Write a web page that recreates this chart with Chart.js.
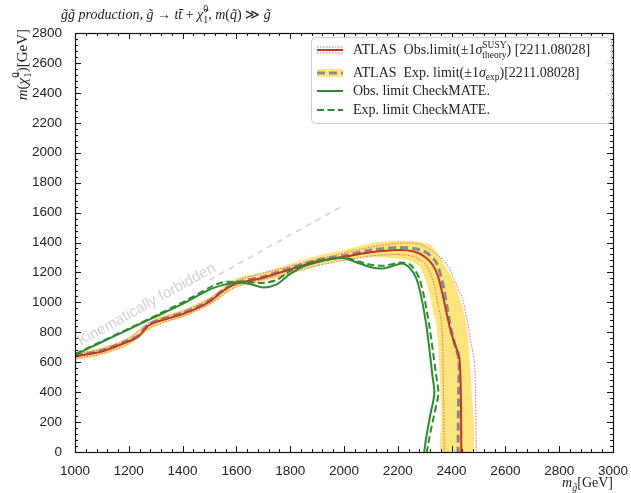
<!DOCTYPE html>
<html>
<head>
<meta charset="utf-8">
<script src="https://cdn.jsdelivr.net/npm/chart.js@4.4.0/dist/chart.umd.min.js"></script>
<style>
  html, body { margin: 0; padding: 0; background: #fff; }
  canvas { display: block; }
</style>
</head>
<body>
<canvas id="c" width="631" height="493"></canvas>
<script>
// Axis ticks
const xTicks = [1000, 1200, 1400, 1600, 1800, 2000, 2200, 2400, 2600, 2800, 3000];
const yTicks = [0, 200, 400, 600, 800, 1000, 1200, 1400, 1600, 1800, 2000, 2200, 2400, 2600, 2800];

// CheckMATE observed limit
const cmObsX = [1000, 1100, 1200, 1300, 1400, 1500, 1550, 1600, 1650, 1700, 1750, 1800, 1850, 1900, 1950, 2000, 2050, 2100, 2150, 2215, 2243, 2269, 2288, 2305, 2318, 2328, 2336, 2320, 2306, 2298];
const cmObsY = [650, 735, 820, 905, 990, 1085, 1115, 1132, 1122, 1100, 1120, 1190, 1240, 1268, 1288, 1295, 1265, 1235, 1228, 1260, 1233, 1160, 1030, 860, 680, 520, 393, 240, 100, 0];

// CheckMATE expected limit
const cmExpX = [1000, 1100, 1200, 1300, 1400, 1500, 1550, 1600, 1650, 1700, 1750, 1800, 1850, 1900, 1950, 2000, 2050, 2100, 2150, 2213, 2250, 2280, 2299, 2317, 2330, 2342, 2351, 2334, 2318, 2308];
const cmExpY = [655, 740, 825, 912, 1000, 1098, 1135, 1138, 1135, 1130, 1150, 1210, 1245, 1270, 1290, 1300, 1275, 1252, 1245, 1267, 1247, 1160, 1027, 847, 680, 520, 393, 240, 100, 0];

// ATLAS observed limit and its +-1 sigma theory lines
const atObsX = [1000, 1100, 1200, 1235, 1270, 1300, 1350, 1400, 1450, 1500, 1550, 1600, 1700, 1800, 1900, 2000, 2100, 2200, 2260, 2300, 2330, 2350, 2365, 2380, 2395, 2412, 2428, 2433, 2435, 2436];
const atObsY = [640, 672, 740, 770, 840, 868, 895, 922, 958, 1005, 1075, 1125, 1165, 1220, 1275, 1305, 1335, 1350, 1340, 1305, 1250, 1170, 1065, 940, 820, 720, 640, 500, 300, 0];
const atObsUpX = [1000, 1100, 1200, 1270, 1350, 1400, 1500, 1600, 1800, 2000, 2100, 2200, 2280, 2330, 2370, 2392, 2415, 2440, 2458, 2470, 2484, 2489, 2492];
const atObsUpY = [655, 688, 758, 858, 912, 940, 1022, 1145, 1240, 1330, 1370, 1395, 1390, 1340, 1280, 1227, 1130, 1027, 880, 750, 613, 400, 0];
const atObsDnX = [1000, 1100, 1200, 1270, 1350, 1400, 1500, 1600, 1800, 1900, 2000, 2100, 2200, 2260, 2300, 2325, 2340, 2352, 2362, 2367, 2370, 2373];
const atObsDnY = [625, 656, 722, 822, 878, 905, 988, 1105, 1195, 1245, 1280, 1310, 1320, 1305, 1260, 1180, 1080, 960, 880, 700, 400, 0];

// ATLAS expected limit and its +-1 sigma band
const atExpX = [1000, 1100, 1200, 1235, 1270, 1300, 1350, 1400, 1450, 1500, 1550, 1600, 1700, 1800, 1900, 2000, 2100, 2200, 2260, 2306, 2343, 2366, 2384, 2398, 2415, 2427, 2426, 2424];
const atExpY = [645, 678, 748, 778, 848, 875, 902, 930, 965, 1012, 1082, 1132, 1172, 1228, 1283, 1313, 1350, 1367, 1360, 1333, 1267, 1133, 960, 820, 700, 620, 400, 0];
const bandHiX = [1000, 1100, 1200, 1300, 1400, 1500, 1600, 1700, 1800, 1900, 2000, 2100, 2200, 2280, 2320, 2354, 2380, 2403, 2436, 2455, 2466, 2473, 2477];
const bandHiY = [665, 700, 768, 895, 950, 1035, 1160, 1200, 1258, 1312, 1350, 1395, 1413, 1405, 1385, 1313, 1230, 1160, 1000, 847, 660, 450, 0];
const bandLoX = [1000, 1100, 1200, 1300, 1400, 1500, 1600, 1700, 1800, 1900, 2000, 2083, 2160, 2243, 2280, 2300, 2317, 2330, 2343, 2352, 2358, 2362, 2364];
const bandLoY = [612, 648, 715, 842, 898, 980, 1100, 1140, 1190, 1245, 1280, 1300, 1298, 1280, 1240, 1165, 1067, 950, 860, 650, 450, 200, 0];

// Kinematic boundary and its label
const kinX = [1500, 2000];
const kinY = [1150, 1650];
const kinLabel = "Kinematically forbidden";
const kinLabelAt = [1022, 708];

const GREEN = '#2e8b30';
const RED = '#c0362c';
const PINK = '#e0607a';
const GREY = '#8a8a8a';
const YELLOW = '#fde47c';
const SERIF = "'Liberation Serif', 'DejaVu Serif', serif";
const SANS = "'Liberation Sans', Arial, sans-serif";

function pts(xs, ys) {
  return xs.map((x, i) => ({ x: x, y: ys[i] }));
}

// band polygon: upper edge then lower edge backwards
const bandPts = pts(bandHiX, bandHiY).concat(pts(bandLoX, bandLoY).reverse());

// draws text made of pieces (italic letters, sub/superscripts)
function richText(ctx, parts, x, y, draw) {
  for (const p of parts) {
    if (p.sup !== undefined || p.sub !== undefined) {
      ctx.font = p.font;
      let w = 0;
      if (p.sup !== undefined) {
        if (draw) ctx.fillText(p.sup, x, y + p.supDy);
        w = Math.max(w, ctx.measureText(p.sup).width);
      }
      if (p.sub !== undefined) {
        if (draw) ctx.fillText(p.sub, x, y + p.subDy);
        w = Math.max(w, ctx.measureText(p.sub).width);
      }
      x += w;
    } else {
      ctx.font = p.font;
      if (draw) ctx.fillText(p.t, x, y + (p.dy || 0));
      x += ctx.measureText(p.t).width;
    }
  }
  return x;
}

const frameTicks = {
  id: 'frameTicks',
  afterDatasetsDraw(chart) {
    const { ctx, chartArea: a, scales: { x, y } } = chart;
    ctx.save();
    ctx.strokeStyle = '#111';
    ctx.lineWidth = 1;
    ctx.beginPath();
    for (let i = 0; i < xTicks.length; i++) {
      const v = xTicks[i];
      const px = Math.round(x.getPixelForValue(v)) + 0.5;
      ctx.moveTo(px, a.bottom); ctx.lineTo(px, a.bottom - 6);
      ctx.moveTo(px, a.top); ctx.lineTo(px, a.top + 6);
      if (i < xTicks.length - 1) {
        const step = (xTicks[i + 1] - v) / 5;
        for (let k = 1; k < 5; k++) {
          const mx = Math.round(x.getPixelForValue(v + k * step)) + 0.5;
          ctx.moveTo(mx, a.bottom); ctx.lineTo(mx, a.bottom - 3);
          ctx.moveTo(mx, a.top); ctx.lineTo(mx, a.top + 3);
        }
      }
    }
    for (let i = 0; i < yTicks.length; i++) {
      const v = yTicks[i];
      const py = Math.round(y.getPixelForValue(v)) + 0.5;
      ctx.moveTo(a.left, py); ctx.lineTo(a.left + 6, py);
      ctx.moveTo(a.right, py); ctx.lineTo(a.right - 6, py);
      if (i < yTicks.length - 1) {
        const step = (yTicks[i + 1] - v) / 5;
        for (let k = 1; k < 5; k++) {
          const my = Math.round(y.getPixelForValue(v + k * step)) + 0.5;
          ctx.moveTo(a.left, my); ctx.lineTo(a.left + 3, my);
          ctx.moveTo(a.right, my); ctx.lineTo(a.right - 3, my);
        }
      }
    }
    ctx.stroke();
    ctx.lineWidth = 1.2;
    ctx.strokeRect(Math.round(a.left) + 0.5, Math.round(a.top) + 0.5, Math.round(a.width), Math.round(a.height));

    // kinematic label, rotated along the boundary line
    const ang = Math.atan2(y.getPixelForValue(kinY[1]) - y.getPixelForValue(kinY[0]),
                           x.getPixelForValue(kinX[1]) - x.getPixelForValue(kinX[0]));
    ctx.translate(x.getPixelForValue(kinLabelAt[0]), y.getPixelForValue(kinLabelAt[1]));
    ctx.rotate(ang);
    ctx.font = "15px " + SANS;
    ctx.fillStyle = '#d0d0d0';
    ctx.fillText(kinLabel, 0, 0);
    ctx.restore();
  }
};

const texts = {
  id: 'texts',
  afterDraw(chart) {
    const ctx = chart.ctx;
    const a = chart.chartArea;
    const it = "italic 14px " + SERIF, up = "14px " + SERIF, sm = "italic 10px " + SERIF, smUp = "10px " + SERIF;
    ctx.save();
    ctx.fillStyle = '#222';
    ctx.textBaseline = 'alphabetic';

    // title
    richText(ctx, [
      { t: 'g\u0303g\u0303 production, g\u0303 ', font: it },
      { t: '\u2192 ', font: up },
      { t: 'tt\u0304', font: it },
      { t: ' + ', font: up },
      { t: '\u03C7\u0303', font: it },
      { sup: '0', sub: '1', font: smUp, supDy: -7, subDy: 4 },
      { t: ', ', font: up },
      { t: 'm', font: it },
      { t: '(', font: up },
      { t: 'q\u0303', font: it },
      { t: ') \u226B ', font: up },
      { t: 'g\u0303', font: it }
    ], 61, 19, true);

    // y axis title (rotated, top aligned)
    const yi = "italic 15px " + SERIF, yu = "15px " + SERIF, ys = "11px " + SERIF;
    const yParts = [
      { t: 'm', font: yi },
      { t: '(', font: yu },
      { t: '\u03C7\u0303', font: yi },
      { sup: '0', sub: '1', font: ys, supDy: -8, subDy: 4 },
      { t: ')[GeV]', font: yu }
    ];
    const yw = richText(ctx, yParts, 0, 0, false);
    ctx.save();
    ctx.translate(27, a.top - 4 + yw);
    ctx.rotate(-Math.PI / 2);
    richText(ctx, yParts, 0, 0, true);
    ctx.restore();

    // x axis title (right aligned)
    const xParts = [
      { t: 'm', font: it },
      { t: 'g\u0303', font: sm, dy: 4 },
      { t: '[GeV]', font: up }
    ];
    const xw = richText(ctx, xParts, 0, 0, false);
    richText(ctx, xParts, a.right - xw, 487, true);

    // legend
    ctx.fillStyle = 'rgba(255,255,255,0.85)';
    ctx.strokeStyle = '#d0d0d0';
    ctx.lineWidth = 1;
    ctx.beginPath();
    ctx.roundRect(311.5, 37.5, 300, 86, 4);
    ctx.fill();
    ctx.stroke();

    const x0 = 317, x1 = 343;
    // row 1
    ctx.strokeStyle = RED; ctx.lineWidth = 2; ctx.setLineDash([]);
    ctx.beginPath(); ctx.moveTo(x0, 50); ctx.lineTo(x1, 50); ctx.stroke();
    ctx.strokeStyle = PINK; ctx.lineWidth = 1; ctx.setLineDash([1.5, 1.5]);
    ctx.beginPath(); ctx.moveTo(x0, 47); ctx.lineTo(x1, 47); ctx.moveTo(x0, 53); ctx.lineTo(x1, 53); ctx.stroke();
    // row 2
    ctx.fillStyle = YELLOW; ctx.fillRect(x0, 69, x1 - x0, 8);
    ctx.strokeStyle = GREY; ctx.lineWidth = 3; ctx.setLineDash([8, 4]);
    ctx.beginPath(); ctx.moveTo(x0, 73); ctx.lineTo(x1, 73); ctx.stroke();
    // row 3
    ctx.strokeStyle = GREEN; ctx.lineWidth = 2; ctx.setLineDash([]);
    ctx.beginPath(); ctx.moveTo(x0, 91); ctx.lineTo(x1, 91); ctx.stroke();
    // row 4
    ctx.setLineDash([7, 3.5]);
    ctx.beginPath(); ctx.moveTo(x0, 110); ctx.lineTo(x1, 110); ctx.stroke();
    ctx.setLineDash([]);

    const lf = "14px " + SERIF, li = "italic 14px " + SERIF, ls = "9.5px " + SERIF;
    ctx.fillStyle = '#222';
    richText(ctx, [
      { t: 'ATLAS  Obs.limit(\u00B11', font: lf },
      { t: '\u03C3', font: li },
      { sup: 'SUSY', sub: 'theory', font: ls, supDy: -6, subDy: 4 },
      { t: ') [2211.08028]', font: lf }
    ], 353, 54, true);
    richText(ctx, [
      { t: 'ATLAS  Exp. limit(\u00B11', font: lf },
      { t: '\u03C3', font: li },
      { t: 'exp', font: ls, dy: 3 },
      { t: ')[2211.08028]', font: lf }
    ], 353, 77, true);
    richText(ctx, [{ t: 'Obs. limit CheckMATE.', font: lf }], 353, 95, true);
    richText(ctx, [{ t: 'Exp. limit CheckMATE.', font: lf }], 353, 114, true);
    ctx.restore();
  }
};

const tickFont = { family: SANS, size: 13.5 };

new Chart(document.getElementById('c'), {
  type: 'line',
  data: {
    datasets: [
      { data: pts(cmExpX, cmExpY), borderColor: GREEN, borderWidth: 2, borderDash: [7, 3.5] },
      { data: pts(cmObsX, cmObsY), borderColor: GREEN, borderWidth: 2 },
      { data: pts(atObsX, atObsY), borderColor: RED, borderWidth: 2 },
      { data: pts(atExpX, atExpY), borderColor: GREY, borderWidth: 3, borderDash: [8, 4] },
      { data: pts(atObsUpX, atObsUpY), borderColor: PINK, borderWidth: 1, borderDash: [1.5, 1.5] },
      { data: pts(atObsDnX, atObsDnY), borderColor: PINK, borderWidth: 1, borderDash: [1.5, 1.5] },
      { data: bandPts, borderWidth: 0, borderColor: 'rgba(0,0,0,0)', backgroundColor: YELLOW, fill: 'shape' },
      { data: pts(kinX, kinY), borderColor: '#cfcfcf', borderWidth: 1.5, borderDash: [6, 5] }
    ]
  },
  options: {
    responsive: false,
    animation: false,
    layout: { padding: { top: 33, right: 17, left: 0, bottom: 0 } },
    elements: { point: { radius: 0 }, line: { tension: 0.25, fill: false } },
    plugins: { legend: { display: false }, tooltip: { enabled: false } },
    scales: {
      x: {
        type: 'linear', min: 1000, max: 3000,
        afterBuildTicks: s => { s.ticks = xTicks.map(v => ({ value: v })); },
        afterFit: s => { s.height = 41; },
        ticks: { font: tickFont, color: '#222', padding: 3, maxRotation: 0, autoSkip: false, callback: v => String(v) },
        grid: { display: false },
        border: { display: false }
      },
      y: {
        type: 'linear', min: 0, max: 2800,
        afterBuildTicks: s => { s.ticks = yTicks.map(v => ({ value: v })); },
        afterFit: s => { s.width = 75; },
        ticks: { font: tickFont, color: '#222', padding: 5, autoSkip: false, callback: v => String(v) },
        grid: { display: false },
        border: { display: false }
      }
    }
  },
  plugins: [frameTicks, texts]
});
</script>
</body>
</html>
